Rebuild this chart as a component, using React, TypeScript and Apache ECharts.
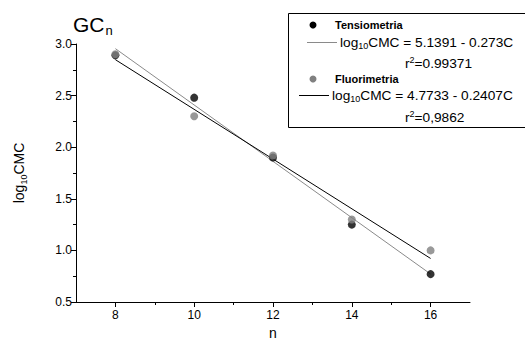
import React, { useEffect, useRef } from "react";
import * as echarts from "echarts";

const xMajorTicks = [8, 10, 12, 14, 16];
const xMinorTicks = [9, 11, 13, 15];
const tensioPoints: [number, number][] = [
  [8, 2.89],
  [10, 2.48],
  [12, 1.9],
  [14, 1.25],
  [16, 0.77],
];
const fluoroPoints: [number, number][] = [
  [8, 2.9],
  [10, 2.3],
  [12, 1.92],
  [14, 1.3],
  [16, 1.0],
];
// regression line endpoints (log10CMC = 5.1391 - 0.273C ; 4.7733 - 0.2407C)
const tensioFit: [number, number][] = [
  [8, 2.955],
  [16, 0.771],
];
const fluoroFit: [number, number][] = [
  [8, 2.848],
  [16, 0.922],
];

const FONT = "'Liberation Sans', Arial, sans-serif";

export default function App() {
  const ref = useRef<HTMLDivElement>(null);
  useEffect(() => {
    if (!ref.current) return;
    const chart = echarts.init(ref.current, null, { renderer: "svg" });
    const sub = { fontSize: 9, fontFamily: FONT, color: "#000", padding: [8, 0, 0, 0] };
    const sup = { fontSize: 9, fontFamily: FONT, color: "#000", padding: [0, 0, 6, 0] };
    const norm = { fontSize: 13.7, fontFamily: FONT, color: "#000" };
    chart.setOption({
      animation: false,
      backgroundColor: "#fff",
      textStyle: { fontFamily: FONT },
      grid: { left: 76, top: 44, width: 394, height: 264 },
      xAxis: [
        {
          type: "value",
          min: 7,
          max: 17,
          name: "n",
          nameLocation: "middle",
          nameGap: 24,
          nameTextStyle: { fontSize: 14, color: "#000", fontFamily: FONT },
          axisLine: { show: true, lineStyle: { color: "#000", width: 1 } },
          axisTick: { show: true, length: 5, customValues: xMajorTicks, lineStyle: { color: "#000" } },
          axisLabel: { customValues: xMajorTicks, color: "#000", fontSize: 12, margin: 7, fontFamily: FONT },
          splitLine: { show: false },
        },
        {
          type: "value",
          min: 7,
          max: 17,
          position: "bottom",
          axisLine: { show: false },
          axisTick: { show: true, length: 3, customValues: xMinorTicks, lineStyle: { color: "#000" } },
          axisLabel: { show: false },
          splitLine: { show: false },
        },
      ],
      yAxis: {
        type: "value",
        min: 0.5,
        max: 3.0,
        interval: 0.5,
        name: "{n|log}{s|10}{n|CMC}",
        nameLocation: "middle",
        nameGap: 48,
        nameRotate: 90,
        nameTextStyle: {
          rich: {
            n: { fontSize: 14, fontFamily: FONT, color: "#000" },
            s: { fontSize: 9, fontFamily: FONT, color: "#000", padding: [9, 0, 0, 0] },
          },
        },
        axisLine: { show: true, lineStyle: { color: "#000", width: 1 } },
        axisTick: { show: true, length: 5, lineStyle: { color: "#000" } },
        minorTick: { show: true, splitNumber: 2, length: 3, lineStyle: { color: "#000" } },
        axisLabel: {
          color: "#000",
          fontSize: 12,
          margin: 4,
          fontFamily: FONT,
          formatter: (v: number) => v.toFixed(1),
        },
        splitLine: { show: false },
      },
      series: [
        {
          type: "line",
          data: tensioFit,
          symbol: "none",
          lineStyle: { color: "#8a8a8a", width: 1 },
          z: 2,
        },
        {
          type: "line",
          data: fluoroFit,
          symbol: "none",
          lineStyle: { color: "#000", width: 1 },
          z: 2,
        },
        {
          type: "scatter",
          data: tensioPoints,
          symbol: "circle",
          symbolSize: 8,
          itemStyle: { color: "#000" },
          z: 3,
        },
        {
          type: "scatter",
          data: fluoroPoints,
          symbol: "circle",
          symbolSize: 8,
          itemStyle: { color: "#808080" },
          z: 4,
        },
      ],
      graphic: [
        {
          type: "text",
          left: 73,
          top: 14,
          style: {
            text: "{g|GC}{s|n}",
            rich: {
              g: { fontSize: 21, fontFamily: FONT, color: "#000" },
              s: { fontSize: 13, fontFamily: FONT, color: "#000", padding: [12, 0, 0, 1] },
            },
          },
        },
        {
          type: "rect",
          shape: { x: 288.5, y: 13.5, width: 240, height: 114 },
          style: { fill: "none", stroke: "#000", lineWidth: 1 },
        },
        { type: "circle", shape: { cx: 313, cy: 25, r: 3.5 }, style: { fill: "#000" } },
        {
          type: "text",
          x: 335,
          y: 25,
          style: { text: "Tensiometria", font: `bold 11px ${FONT}`, fill: "#000", verticalAlign: "middle" },
        },
        { type: "line", shape: { x1: 307, y1: 42.5, x2: 337, y2: 42.5 }, style: { stroke: "#8a8a8a", lineWidth: 1 } },
        {
          type: "text",
          x: 340,
          y: 42,
          style: {
            text: "{n|log}{s|10}{n|CMC = 5.1391 - 0.273C}",
            verticalAlign: "middle",
            rich: { n: norm, s: sub },
          },
        },
        {
          type: "text",
          x: 405,
          y: 63,
          style: {
            text: "{n|r}{p|2}{n|=0.99371}",
            verticalAlign: "middle",
            rich: { n: norm, p: sup },
          },
        },
        { type: "circle", shape: { cx: 313, cy: 79, r: 3.5 }, style: { fill: "#808080" } },
        {
          type: "text",
          x: 335,
          y: 79,
          style: { text: "Fluorimetria", font: `bold 11px ${FONT}`, fill: "#000", verticalAlign: "middle" },
        },
        { type: "line", shape: { x1: 299, y1: 95.5, x2: 329, y2: 95.5 }, style: { stroke: "#000", lineWidth: 1 } },
        {
          type: "text",
          x: 332,
          y: 95,
          style: {
            text: "{n|log}{s|10}{n|CMC = 4.7733 - 0.2407C}",
            verticalAlign: "middle",
            rich: { n: norm, s: sub },
          },
        },
        {
          type: "text",
          x: 405,
          y: 117,
          style: {
            text: "{n|r}{p|2}{n|=0,9862}",
            verticalAlign: "middle",
            rich: { n: norm, p: sup },
          },
        },
      ],
    });
    return () => chart.dispose();
  }, []);
  return (
    <div
      ref={ref}
      style={{ position: "absolute", left: 0, top: 0, width: 525, height: 345 }}
    />
  );
}
